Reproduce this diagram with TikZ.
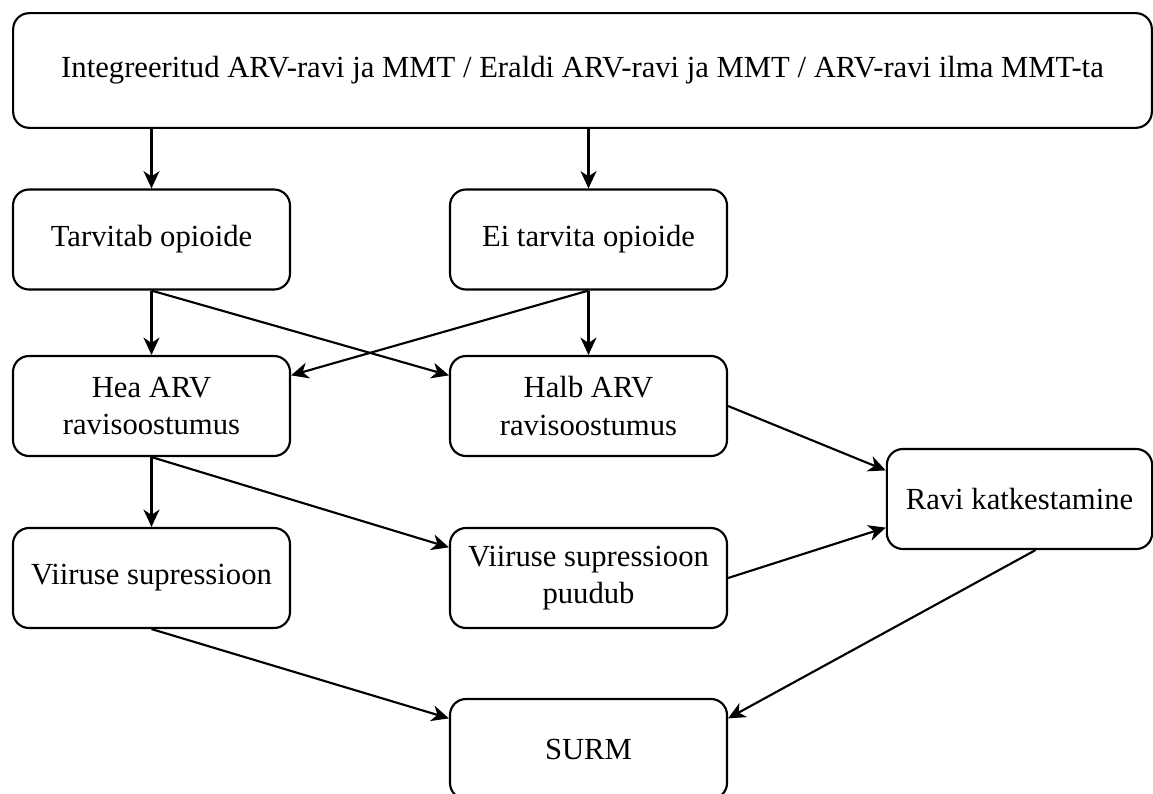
\documentclass[tikz,border=0pt]{standalone}
\usepackage{fontspec}
\setmainfont{Liberation Serif}
\usepackage{tikz}
\usetikzlibrary{arrows.meta,shapes,calc}

\begin{document}
\begin{tikzpicture}[x=0.75pt, y=-0.75pt, line width=1.6pt,
		box/.style={rectangle, rounded corners=12pt, draw, align=center,
			font=\fontsize{23}{28}\selectfont, minimum width=207.75pt, minimum height=75pt},
		arr/.style={draw, -{Stealth[length=13pt, width=12pt, inset=4pt]}}]
		\useasboundingbox (0, 0) rectangle (1153, 793);

		\path (582.5, 70.5) node[box, minimum width=854pt, minimum height=86pt] (start) {Integreeritud ARV-ravi ja MMT / Eraldi ARV-ravi ja MMT / ARV-ravi ilma MMT-ta}
  		(151.5, 239.5) node[box] (tarv) {Tarvitab opioide}
  		(588.5, 239.5) node[box] (ei) {Ei tarvita opioide}
  		(151.5, 406) node[box] (hea) {Hea ARV\\ravisoostumus}
  		(588.5, 406) node[box] (halb) {Halb ARV\\ravisoostumus}
  		(1019.5, 499) node[box, minimum width=199pt] (ravi) {Ravi katkestamine}
  		(151.5, 578) node[box] (vsup) {Viiruse supressioon}
  		(588.5, 578) node[box] (vpuud) {Viiruse supressioon\\puudub}
  		(588.5, 749) node[box] (surm) {SURM};

		\draw[arr] (start.south -| tarv) -- (tarv);
		\draw[arr] (start.south -| ei) -- (ei);
		\draw[arr] (tarv) -- (hea);
		\draw[arr] (tarv.south) -- ($(halb.north west)!0.2!(halb.south west)$);
		\draw[arr] (ei.south) -- ($(hea.north east)!0.2!(hea.south east)$);
		\draw[arr] (ei) -- (halb);
		\draw[arr] (halb.east) -- ($(ravi.north west)!0.22!(ravi.south west)$);
		\draw[arr] (hea) -- (vsup);
		\draw[arr] (hea.south) -- ($(vpuud.north west)!0.2!(vpuud.south west)$);
		\draw[arr] (vpuud.east) -- ($(ravi.north west)!0.78!(ravi.south west)$);
		\draw[arr] (vsup.south) -- ($(surm.north west)!0.2!(surm.south west)$);
		\draw[arr] ($(ravi.south west)!0.56!(ravi.south east)$) -- ($(surm.north east)!0.2!(surm.south east)$);
	\end{tikzpicture}
\end{document}
